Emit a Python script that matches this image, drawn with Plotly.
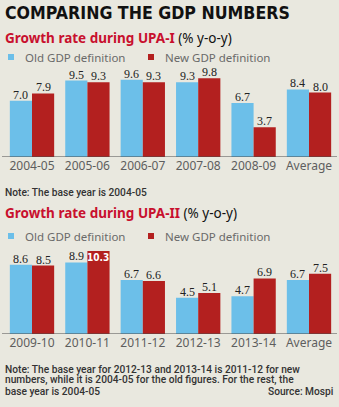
import plotly.graph_objects as go

W, H = 339, 407

cats1 = ["2004-05", "2005-06", "2006-07", "2007-08", "2008-09", "Average"]
old1 = [7.0, 9.5, 9.6, 9.3, 6.7, 8.4]
new1 = [7.9, 9.3, 9.3, 9.8, 3.7, 8.0]

cats2 = ["2009-10", "2010-11", "2011-12", "2012-13", "2013-14", "Average"]
old2 = [8.6, 8.9, 6.7, 4.5, 4.7, 6.7]
new2 = [8.5, 10.3, 6.6, 5.1, 6.9, 7.5]

BG = "#e9e8df"
BLUE = "#6cbfe9"
RED = "#b3201f"
TITLE_RED = "#c8102e"


def px(x):
    return x / W


def py(y):
    return 1 - y / H


fig = go.Figure()

idx = list(range(len(cats1)))
fig.add_trace(go.Bar(x=idx, y=old1, marker_color=BLUE, marker_line_width=0,
                     name="Old GDP definition", xaxis="x", yaxis="y", showlegend=False))
fig.add_trace(go.Bar(x=idx, y=new1, marker_color=RED, marker_line_width=0,
                     name="New GDP definition", xaxis="x", yaxis="y", showlegend=False))
fig.add_trace(go.Bar(x=idx, y=old2, marker_color=BLUE, marker_line_width=0,
                     name="Old GDP definition", xaxis="x2", yaxis="y2", showlegend=False))
fig.add_trace(go.Bar(x=idx, y=new2, marker_color=RED, marker_line_width=0,
                     name="New GDP definition", xaxis="x2", yaxis="y2", showlegend=False))

xdom = [px(4.3), px(336.7)]
tickfont = dict(family="Noto Sans", size=12, color="#5e5e5e")
fig.update_layout(
    width=W, height=H, margin=dict(l=0, r=0, t=0, b=0),
    paper_bgcolor=BG, plot_bgcolor=BG,
    barmode="group", bargap=0.2, bargroupgap=0,
    xaxis=dict(domain=xdom, range=[-0.5, 5.5], tickvals=idx, ticktext=cats1,
               showgrid=False, zeroline=False, showline=False, ticks="",
               tickfont=tickfont, fixedrange=True),
    yaxis=dict(domain=[py(157), py(72.5)], range=[0, 10.5], visible=False,
               fixedrange=True),
    xaxis2=dict(domain=xdom, range=[-0.5, 5.5], tickvals=idx, ticktext=cats2,
                showgrid=False, zeroline=False, showline=False, ticks="",
                tickfont=tickfont, anchor="y2", fixedrange=True),
    yaxis2=dict(domain=[py(334), py(249.5)], range=[0, 10.5], visible=False,
                anchor="x2", fixedrange=True),
)

shapes = []
annos = []

# baselines
for yref in ["y", "y2"]:
    shapes.append(dict(type="line", xref="paper", yref=yref, x0=px(2), x1=px(337),
                       y0=0, y1=0, line=dict(color="#4a4a4a", width=1)))

valfont = dict(family="Liberation Serif", size=12, color="#222")


def add_values(old, new, xref, yref):
    for i, (o, n) in enumerate(zip(old, new)):
        annos.append(dict(x=i - 0.2, y=o, xref=xref, yref=yref, text=f"{o:.1f}",
                          showarrow=False, yanchor="bottom", font=valfont, yshift=-3))
        if n >= 10:
            annos.append(dict(x=i + 0.2, y=n, xref=xref, yref=yref, text=f"<b>{n:.1f}</b>",
                              showarrow=False, yanchor="top", yshift=1,
                              font=dict(family="DejaVu Sans Condensed", size=10, color="white")))
        else:
            annos.append(dict(x=i + 0.2, y=n, xref=xref, yref=yref, text=f"{n:.1f}",
                              showarrow=False, yanchor="bottom", font=valfont, yshift=-3))


add_values(old1, new1, "x", "y")
add_values(old2, new2, "x2", "y2")


def text(x, y, t, size, family="Roboto", color="#333", xanchor="left", weight="normal"):
    annos.append(dict(x=px(x), y=py(y), xref="paper", yref="paper", text=t,
                      showarrow=False, xanchor=xanchor, yanchor="middle",
                      font=dict(family=family, size=size, color=color, weight=weight),
                      borderpad=0))


# title
text(4, 13, "<b>COMPARING THE GDP NUMBERS</b>", 17.6, family="DejaVu Sans Condensed", color="#111")
text(4, 38, f"<b><span style='color:{TITLE_RED}'>Growth rate during UPA-I</span></b> (% y-o-y)", 13.5,
     family="Noto Sans", color="#111")
text(4, 213, f"<b><span style='color:{TITLE_RED}'>Growth rate during UPA-II</span></b> (% y-o-y)", 13.5,
     family="Noto Sans", color="#111")

# legends
legfont = "Noto Sans"
for ly in [57, 236]:
    shapes.append(dict(type="rect", xref="paper", yref="paper", x0=px(8), x1=px(14),
                       y0=py(ly - 3), y1=py(ly + 3), fillcolor=BLUE, line_width=0))
    shapes.append(dict(type="rect", xref="paper", yref="paper", x0=px(148), x1=px(154),
                       y0=py(ly - 3), y1=py(ly + 3), fillcolor=RED, line_width=0))
    text(24, ly, "Old GDP definition", 11.5, family=legfont, color="#6a6a6a")
    text(164, ly, "New GDP definition", 11.5, family=legfont, color="#6a6a6a")

# notes
notefont = "Roboto"
ns = 10.2
nw = 500
text(4, 192, "Note: The base year is 2004-05", ns, family=notefont, weight=nw)
text(4, 369, "Note: The base year for 2012-13 and 2013-14 is 2011-12 for new", ns, family=notefont, weight=nw)
text(4, 380, "numbers, while it is 2004-05 for the old figures. For the rest, the", ns, family=notefont, weight=nw)
text(4, 391, "base year is 2004-05", ns, family=notefont, weight=nw)
text(334, 391, "Source: Mospi", ns, family=notefont, xanchor="right", weight=nw)

fig.update_layout(shapes=shapes, annotations=annos)

fig.write_html("out.html")
